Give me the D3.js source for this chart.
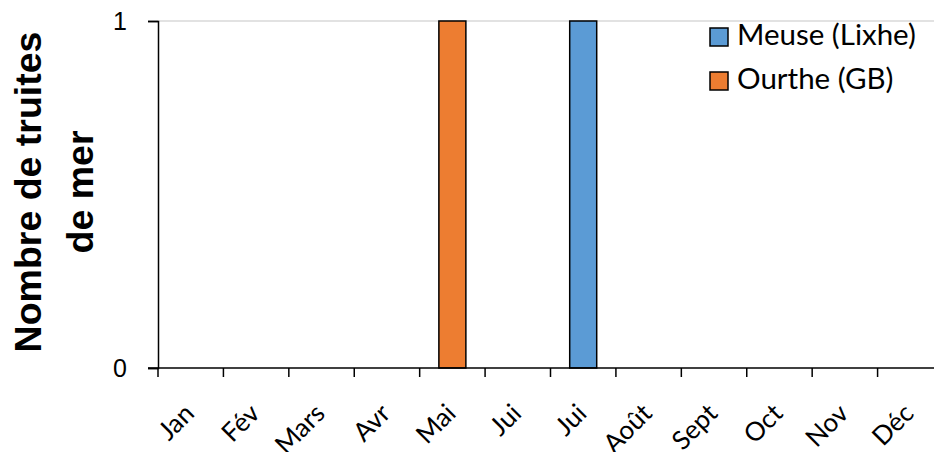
<!DOCTYPE html>
<html>
<head>
<meta charset="utf-8">
<script src="https://cdn.jsdelivr.net/npm/d3@7"></script>
<style>
  html, body { margin: 0; padding: 0; background: #fff; }
  svg { display: block; }
</style>
</head>
<body>
<svg id="chart" width="934" height="452"></svg>
<script>
// Monthly sea trout counts per river
const months = ["Jan", "Fév", "Mars", "Avr", "Mai", "Jui", "Jui", "Août", "Sept", "Oct", "Nov", "Déc"];
const meuseLixhe = [0, 0, 0, 0, 0, 0, 1, 0, 0, 0, 0, 0];
const ourtheGB   = [0, 0, 0, 0, 1, 0, 0, 0, 0, 0, 0, 0];
const yTicks = [0, 1];
const seriesNames = ["Meuse (Lixhe)", "Ourthe (GB)"];
const seriesColors = ["#5B9BD5", "#ED7D31"];

const svg = d3.select("#chart");
const margin = { left: 158, top: 21, right: -9, bottom: 84 };
const W = 934, H = 452;
const plotRight = W - margin.right;
const plotBottom = H - margin.bottom;
const bodyFont = "Lato, 'Open Sans', sans-serif";

const x = d3.scaleBand()
  .domain(d3.range(months.length))
  .range([margin.left, plotRight])
  .paddingInner(0).paddingOuter(0);

const y = d3.scaleLinear().domain([0, 1]).range([plotBottom, margin.top]);

// horizontal gridlines (above zero)
svg.append("g")
  .selectAll("line")
  .data(yTicks.filter(d => d > 0))
  .join("line")
  .attr("x1", margin.left).attr("x2", plotRight)
  .attr("y1", d => y(d)).attr("y2", d => y(d))
  .attr("stroke", "#d9d9d9").attr("stroke-width", 1.5);

// bars: each series drawn centred in its month
const barW = 27;
const rows = [];
months.forEach((m, i) => {
  if (meuseLixhe[i] > 0) rows.push({ i, v: meuseLixhe[i], c: seriesColors[0] });
  if (ourtheGB[i] > 0) rows.push({ i, v: ourtheGB[i], c: seriesColors[1] });
});
svg.append("g")
  .selectAll("rect")
  .data(rows)
  .join("rect")
  .attr("x", d => x(d.i) + x.bandwidth() / 2 - barW / 2)
  .attr("width", barW)
  .attr("y", d => y(d.v))
  .attr("height", d => y(0) - y(d.v))
  .attr("fill", d => d.c)
  .attr("stroke", "#000").attr("stroke-width", 1.5);

// y axis
const yAxis = svg.append("g")
  .attr("transform", `translate(${margin.left},0)`)
  .call(d3.axisLeft(y).tickValues(yTicks).tickFormat(d3.format("d")).tickSize(10).tickPadding(21));
yAxis.select(".domain").attr("stroke", "#000").attr("stroke-width", 1.5);
yAxis.selectAll(".tick line").attr("stroke", "#000").attr("stroke-width", 1.5);
yAxis.selectAll("text")
  .attr("font-family", "'Liberation Sans', Arial, sans-serif")
  .attr("font-size", 25).attr("fill", "#000");

// x axis: ticks sit on category boundaries
const boundaries = d3.range(months.length + 1).map(i => margin.left + i * x.step());
const xg = svg.append("g");
xg.append("line")
  .attr("x1", margin.left - 10).attr("x2", plotRight)
  .attr("y1", plotBottom).attr("y2", plotBottom)
  .attr("stroke", "#000").attr("stroke-width", 1.5);
xg.selectAll("line.tk")
  .data(boundaries)
  .join("line").attr("class", "tk")
  .attr("x1", d => d).attr("x2", d => d)
  .attr("y1", plotBottom).attr("y2", plotBottom + 9)
  .attr("stroke", "#000").attr("stroke-width", 1.5);
xg.selectAll("text")
  .data(months)
  .join("text")
  .attr("transform", (d, i) => `translate(${x(i) + x.bandwidth() / 2 + 5},${plotBottom + 47}) rotate(-45)`)
  .attr("text-anchor", "end")
  .attr("font-family", bodyFont)
  .attr("font-size", 26).attr("fill", "#000")
  .text(d => d);

// y axis title
const title = svg.append("text")
  .attr("transform", `translate(0,192) rotate(-90)`)
  .attr("text-anchor", "middle")
  .attr("font-family", "'Liberation Sans', Arial, sans-serif")
  .attr("font-weight", "bold")
  .attr("font-size", 37.5).attr("fill", "#000");
title.append("tspan").attr("x", 0).attr("y", 41).text("Nombre de truites");
title.append("tspan").attr("x", 0).attr("y", 93).text("de mer");

// legend
const legend = svg.append("g").attr("transform", "translate(710,28)");
seriesNames.forEach((name, k) => {
  const g = legend.append("g").attr("transform", `translate(0,${k * 44})`);
  g.append("rect").attr("width", 18).attr("height", 18)
    .attr("fill", seriesColors[k]).attr("stroke", "#000").attr("stroke-width", 1.5);
  g.append("text").attr("x", 27).attr("y", 17)
    .attr("font-family", bodyFont)
    .attr("font-size", 29.5).attr("fill", "#000")
    .text(name);
});
</script>
</body>
</html>
